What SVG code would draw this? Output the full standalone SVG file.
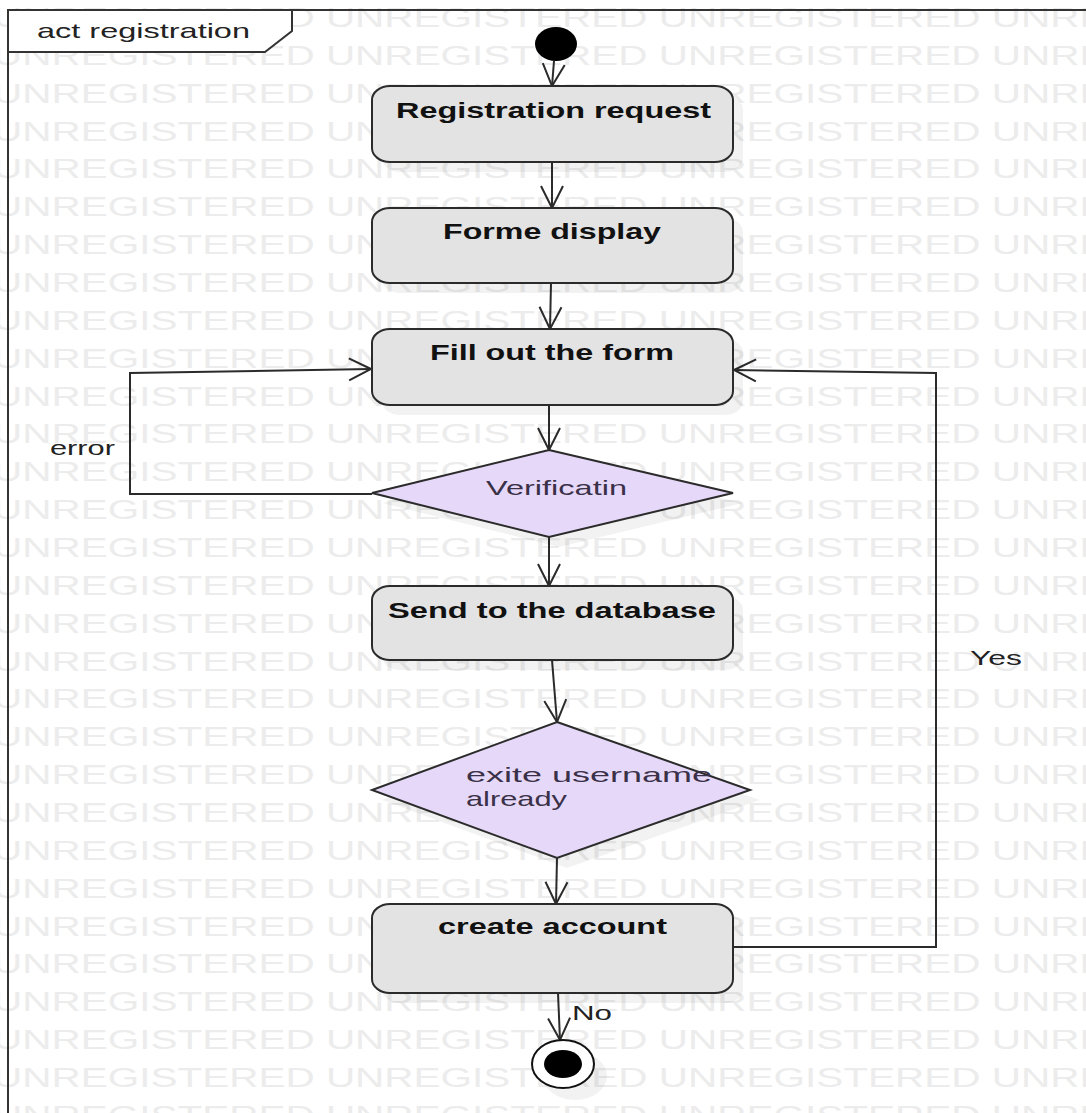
<svg xmlns="http://www.w3.org/2000/svg" xmlns:xlink="http://www.w3.org/1999/xlink" width="1086" height="1113" viewBox="0 0 1086 1113">
<style>
.wm{font-family:"Liberation Sans",Arial,sans-serif;font-size:27px;fill:#ececec}
.frame{fill:none;stroke:#333;stroke-width:2}
.box{fill:#e3e3e3;stroke:#2b2b2b;stroke-width:2}
.dia{fill:#e6d8f8;stroke:#2b2b2b;stroke-width:2}
.sh{fill:#000;opacity:0.05}
.lbl{font-family:"Liberation Sans",Arial,sans-serif;font-weight:bold;font-size:22px;fill:#111}
.dlbl{font-family:"Liberation Sans",Arial,sans-serif;font-size:21px;fill:#3a3148}
.txt{font-family:"Liberation Sans",Arial,sans-serif;font-size:21px;fill:#222}
.edge{fill:none;stroke:#2b2b2b;stroke-width:2}
</style>
<defs>
<marker id="arr" viewBox="-24 -13 26 26" refX="0" refY="0" markerWidth="26" markerHeight="26" markerUnits="userSpaceOnUse" orient="auto">
<path d="M-22,-11 L0,0 L-22,11" fill="none" stroke="#2b2b2b" stroke-width="2"/>
</marker>
<text id="wmrow" class="wm" x="-4.7" transform="scale(1.5 1)">UNREGISTERED UNREGISTERED UNREGISTERED UNREGISTERED</text>
</defs>
<rect width="1086" height="1113" fill="#fff"/>
<g id="watermark">
<use xlink:href="#wmrow" y="27"/>
<use xlink:href="#wmrow" y="65"/>
<use xlink:href="#wmrow" y="103"/>
<use xlink:href="#wmrow" y="141"/>
<use xlink:href="#wmrow" y="178"/>
<use xlink:href="#wmrow" y="216"/>
<use xlink:href="#wmrow" y="254"/>
<use xlink:href="#wmrow" y="292"/>
<use xlink:href="#wmrow" y="330"/>
<use xlink:href="#wmrow" y="368"/>
<use xlink:href="#wmrow" y="406"/>
<use xlink:href="#wmrow" y="443"/>
<use xlink:href="#wmrow" y="481"/>
<use xlink:href="#wmrow" y="519"/>
<use xlink:href="#wmrow" y="557"/>
<use xlink:href="#wmrow" y="595"/>
<use xlink:href="#wmrow" y="633"/>
<use xlink:href="#wmrow" y="671"/>
<use xlink:href="#wmrow" y="708"/>
<use xlink:href="#wmrow" y="746"/>
<use xlink:href="#wmrow" y="784"/>
<use xlink:href="#wmrow" y="822"/>
<use xlink:href="#wmrow" y="860"/>
<use xlink:href="#wmrow" y="898"/>
<use xlink:href="#wmrow" y="936"/>
<use xlink:href="#wmrow" y="973"/>
<use xlink:href="#wmrow" y="1011"/>
<use xlink:href="#wmrow" y="1049"/>
<use xlink:href="#wmrow" y="1087"/>
<use xlink:href="#wmrow" y="1125"/>
</g>
<g id="frame">
<path class="frame" d="M8,1113 L8,10 L1086,10"/>
<path d="M8,10 L292,10 L292,31 L265,52 L8,52 Z" fill="#fff" stroke="#333" stroke-width="2"/>
<text class="txt" x="37" y="38" font-size="24" textLength="213" lengthAdjust="spacingAndGlyphs">act registration</text>
</g>
<g id="connectors">
<line class="edge" x1="554" y1="61" x2="552" y2="86" marker-end="url(#arr)"/>
<line class="edge" x1="552" y1="162" x2="552" y2="208" marker-end="url(#arr)"/>
<line class="edge" x1="551" y1="283" x2="550" y2="329" marker-end="url(#arr)"/>
<line class="edge" x1="549" y1="405" x2="549" y2="450" marker-end="url(#arr)"/>
<polyline class="edge" points="372,494 130,494 130,373 371,369" marker-end="url(#arr)"/>
<line class="edge" x1="549" y1="537" x2="549" y2="586" marker-end="url(#arr)"/>
<line class="edge" x1="552" y1="660" x2="557" y2="722" marker-end="url(#arr)"/>
<line class="edge" x1="557" y1="858" x2="556" y2="904" marker-end="url(#arr)"/>
<polyline class="edge" points="733,947 936,947 936,373 734,370" marker-end="url(#arr)"/>
<line class="edge" x1="558" y1="993" x2="560" y2="1040" marker-end="url(#arr)"/>
<text class="txt" x="50" y="455" textLength="65" lengthAdjust="spacingAndGlyphs">error</text>
<text class="txt" x="970" y="665" textLength="52" lengthAdjust="spacingAndGlyphs">Yes</text>
<text class="txt" x="572" y="1020" textLength="40" lengthAdjust="spacingAndGlyphs">No</text>
</g>
<g id="start">
<ellipse cx="556" cy="44" rx="21" ry="17" fill="#000"/>
</g>
<g id="registration-request">
<rect class="sh" x="382" y="96" width="361" height="76" rx="18" ry="14"/>
<rect class="box" x="372" y="86" width="361" height="76" rx="18" ry="14"/>
<text class="lbl" x="396" y="118" textLength="315" lengthAdjust="spacingAndGlyphs">Registration request</text>
</g>
<g id="forme-display">
<rect class="sh" x="382" y="218" width="361" height="75" rx="18" ry="14"/>
<rect class="box" x="372" y="208" width="361" height="75" rx="18" ry="14"/>
<text class="lbl" x="443" y="239" textLength="218" lengthAdjust="spacingAndGlyphs">Forme display</text>
</g>
<g id="fill-form">
<rect class="sh" x="382" y="339" width="361" height="76" rx="18" ry="14"/>
<rect class="box" x="372" y="329" width="361" height="76" rx="18" ry="14"/>
<text class="lbl" x="430" y="360" textLength="244" lengthAdjust="spacingAndGlyphs">Fill out the form</text>
</g>
<g id="verification">
<polygon class="sh" points="559,460 743,503 559,547 382,503"/>
<polygon class="dia" points="549,450 733,493 549,537 372,493"/>
<text class="dlbl" x="486" y="495" textLength="141" lengthAdjust="spacingAndGlyphs">Verificatin</text>
</g>
<g id="send-db">
<rect class="sh" x="382" y="596" width="361" height="74" rx="18" ry="14"/>
<rect class="box" x="372" y="586" width="361" height="74" rx="18" ry="14"/>
<text class="lbl" x="388" y="618" textLength="328" lengthAdjust="spacingAndGlyphs">Send to the database</text>
</g>
<g id="exists-username">
<polygon class="sh" points="567,732 760,800 567,868 382,800"/>
<polygon class="dia" points="557,722 750,790 557,858 372,790"/>
<text class="dlbl" x="466" y="782" textLength="246" lengthAdjust="spacingAndGlyphs">exite username</text>
<text class="dlbl" x="466" y="806" textLength="101" lengthAdjust="spacingAndGlyphs">already</text>
</g>
<g id="create-account">
<rect class="sh" x="382" y="914" width="361" height="89" rx="18" ry="14"/>
<rect class="box" x="372" y="904" width="361" height="89" rx="18" ry="14"/>
<text class="lbl" x="438" y="934" textLength="229" lengthAdjust="spacingAndGlyphs">create account</text>
</g>
<g id="end">
<ellipse class="sh" cx="575" cy="1076" rx="32" ry="24"/>
<ellipse cx="563" cy="1064" rx="31" ry="24" fill="#fff" stroke="#111" stroke-width="2"/>
<ellipse cx="563" cy="1064" rx="19" ry="14" fill="#000"/>
</g>
</svg>
